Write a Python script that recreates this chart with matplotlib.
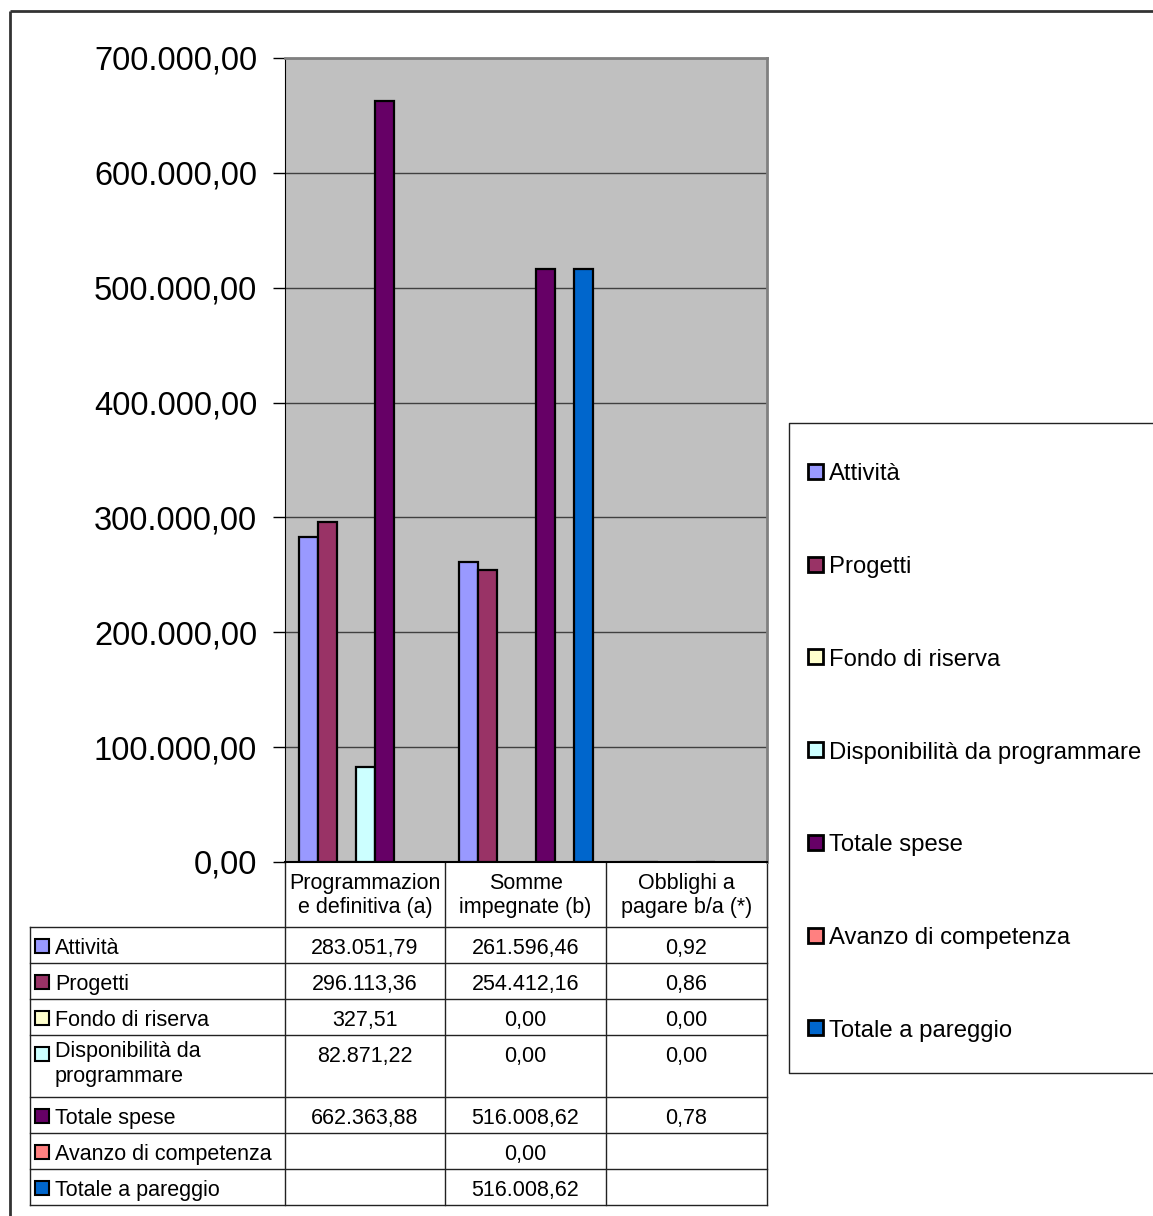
import matplotlib
matplotlib.use("Agg")
import matplotlib.pyplot as plt
from matplotlib.patches import Rectangle
from matplotlib.ticker import FuncFormatter, MultipleLocator

plt.rcParams['font.family'] = ['Liberation Sans', 'DejaVu Sans']

# data
categories = ["Programmazion\ne definitiva (a)", "Somme\nimpegnate (b)", "Obblighi a\npagare b/a (*)"]
series = ["Attività", "Progetti", "Fondo di riserva", "Disponibilità da programmare",
          "Totale spese", "Avanzo di competenza", "Totale a pareggio"]
table_labels = ["Attività", "Progetti", "Fondo di riserva", "Disponibilità da\nprogrammare",
                "Totale spese", "Avanzo di competenza", "Totale a pareggio"]
programmazione = [283051.79, 296113.36, 327.51, 82871.22, 662363.88, None, None]
somme = [261596.46, 254412.16, 0.00, 0.00, 516008.62, 0.00, 516008.62]
obblighi = [0.92, 0.86, 0.00, 0.00, 0.78, None, None]
colors = ["#9999FF", "#993366", "#FFFFCC", "#CCFFFF", "#660066", "#FF8080", "#0066CC"]

columns = [programmazione, somme, obblighi]


def it_fmt(v, pos=None):
    s = "{:,.2f}".format(v)
    return s.replace(",", "X").replace(".", ",").replace("X", ".")


W, H = 1153, 1216
fig = plt.figure(figsize=(W / 100, H / 100), dpi=100)

# overlay in pixel coordinates for frame, table and legend
ov = fig.add_axes([0, 0, 1, 1], zorder=0)
ov.set_xlim(0, W)
ov.set_ylim(H, 0)
ov.axis("off")

# main chart
left, right, top, bottom = 285, 767, 58, 862
ax = fig.add_axes([left / W, (H - bottom) / H, (right - left) / W, (bottom - top) / H], zorder=1)
ax.set_facecolor("#C0C0C0")
bw = 0.11875
n = len(series)
for i in range(n):
    xs, hs = [], []
    for c, col in enumerate(columns):
        v = col[i]
        if v is None or v == 0:
            continue
        xs.append(c + (i - (n - 1) / 2) * bw)
        hs.append(v)
    ax.bar(xs, hs, width=bw, color=colors[i], edgecolor="black", linewidth=1.6, zorder=3)

ax.set_xlim(-0.5, 2.5)
ax.set_ylim(0, 700000)
ax.yaxis.set_major_locator(MultipleLocator(100000))
ax.yaxis.set_major_formatter(FuncFormatter(it_fmt))
ax.yaxis.grid(True, color="#404040", linewidth=1, zorder=1)
ax.set_xticks([])
ax.tick_params(axis="y", direction="out", length=9, width=1, pad=11, labelsize=23.5)
for s in ("top", "right"):
    ax.spines[s].set_color("#808080")
    ax.spines[s].set_linewidth(2)
ax.spines["left"].set_color("black")
ax.spines["bottom"].set_color("black")
ax.spines["bottom"].set_linewidth(1.5)

# outer frame (top and left visible)
ov.plot([10, W], [11, 11], color="#333333", lw=2, solid_capstyle="butt")
ov.plot([10, 10], [11, H], color="#333333", lw=2, solid_capstyle="butt")

# data table
col_x = [30, 285, 445, 606, 767]
rows = [927, 963, 999, 1035, 1097, 1133, 1169, 1205]
lc = "#222222"
for x in col_x[1:]:
    ov.plot([x, x], [bottom, rows[-1]], color=lc, lw=1)
ov.plot([col_x[0], col_x[0]], [rows[0], rows[-1]], color=lc, lw=1)
for y in rows:
    ov.plot([col_x[0], col_x[-1]], [y, y], color=lc, lw=1)

fs = 15.5
for c, cat in enumerate(categories):
    ov.text((col_x[c + 1] + col_x[c + 2]) / 2, (bottom + rows[0]) / 2 + 1, cat,
            ha="center", va="center", fontsize=fs, linespacing=1.15)

for i in range(n):
    y0, y1 = rows[i], rows[i + 1]
    yc = y0 + 18
    ov.add_patch(Rectangle((35, yc - 6), 14, 14, facecolor=colors[i], edgecolor="black", lw=1.5))
    if "\n" in table_labels[i]:
        ov.text(55, y0 + 6, table_labels[i], ha="left", va="top", fontsize=fs, linespacing=1.25)
    else:
        ov.text(55, yc + 1, table_labels[i], ha="left", va="center_baseline", fontsize=fs)
    for c, col in enumerate(columns):
        if col[i] is None:
            continue
        ov.text((col_x[c + 1] + col_x[c + 2]) / 2, yc + 1, it_fmt(col[i]),
                ha="center", va="center_baseline", fontsize=fs)

# legend
ov.plot([W, 789, 789, W], [423, 423, 1073, 1073], color="#222222", lw=1)
leg_y0, leg_step = 471, 92.7
for i in range(n):
    y = leg_y0 + i * leg_step
    ov.add_patch(Rectangle((808, y - 7), 15, 15, facecolor=colors[i], edgecolor="black", lw=2))
    ov.text(829, y + 1, series[i], ha="left", va="center_baseline", fontsize=17.2)

fig.savefig("out.png", dpi=100)
